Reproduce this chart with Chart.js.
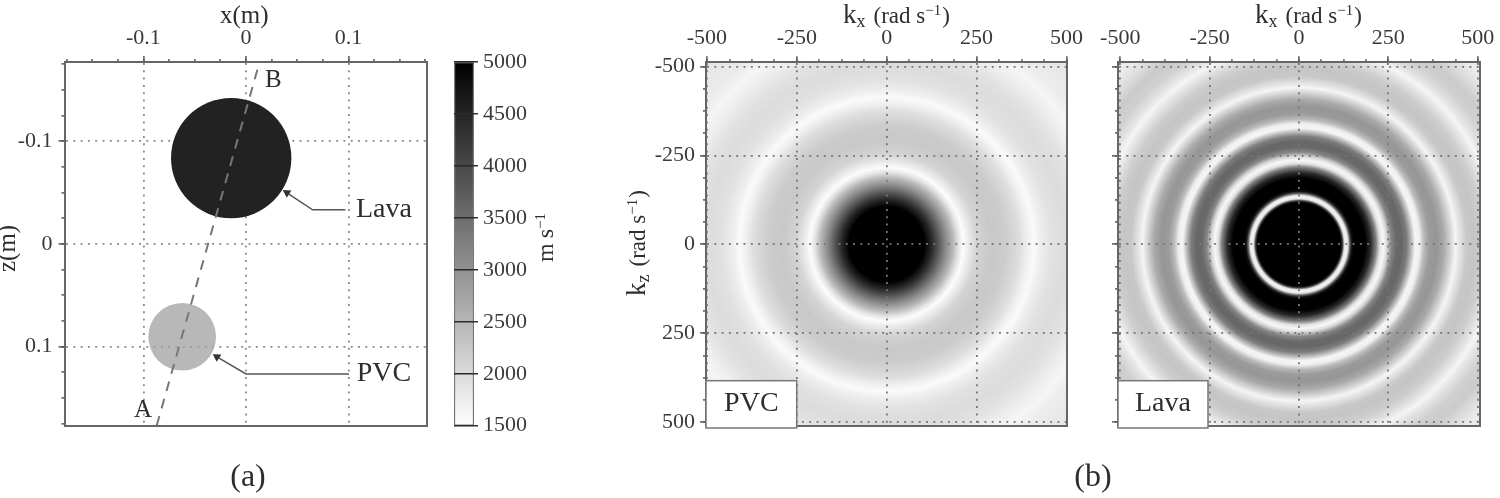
<!DOCTYPE html>
<html><head><meta charset="utf-8">
<script src="https://cdn.jsdelivr.net/npm/chart.js@4"></script>
<style>
html,body{margin:0;padding:0;background:#fff;width:1500px;height:498px;overflow:hidden}
canvas{position:absolute;top:0;filter:blur(0.7px)}
</style></head><body>
<canvas id="a"></canvas><canvas id="cb"></canvas><canvas id="b1"></canvas><canvas id="b2"></canvas>
<script>
// ---- data ----
const modelTicks=[-0.1,0,0.1];
const modelTickLabels=['-0.1','0','0.1'];
const modelMinor=[-0.175,-0.15,-0.125,-0.1,-0.075,-0.05,-0.025,0,0.025,0.05,0.075,0.1,0.125,0.15,0.175];
const lavaDisc={x:-0.0144,z:-0.0835,r:0.0587};
const pvcDisc={x:-0.0622,z:0.0904,r:0.033};
const sectionX=[-0.0871,0.0117];
const sectionZ=[0.177,-0.1714];
const lavaArrowX=[0.097,0.065,0.0400];
const lavaArrowZ=[-0.0331,-0.0331,-0.0497];
const pvcArrowX=[0.1005,0,-0.0283];
const pvcArrowZ=[0.1266,0.1266,0.1100];
const velocityTicks=[1500,2000,2500,3000,3500,4000,4500,5000];
const velocityRange=[1500,5000];
const kTicks=[-500,-250,0,250,500];
const kTickLabels=['-500','-250','0','250','500'];
const kMinor=[-500,-437.5,-375,-312.5,-250,-187.5,-125,-62.5,0,62.5,125,187.5,250,312.5,375,437.5,500];
const pvcRadius=[0,105,125,145,165,185,200,213,228,250,290,330,370,392,410,428,460,500,540,575,605,635,720];
const pvcGray=[0,0,40,90,140,185,228,252,235,212,200,204,222,240,250,238,225,220,226,238,245,236,228];
const lavaRadius=[0,117,122,127,132,137,142,148,155,185,200,215,226,236,246,258,272,287,302,315,325,337,350,365,385,405,425,438,452,470,490,515,540,556,572,600,630,660,690,720];
const lavaGray=[0,0,70,225,245,225,100,15,0,0,40,125,225,248,215,135,105,103,125,190,245,240,185,155,150,170,215,245,225,200,197,205,228,245,228,208,203,220,235,235];

// ---- text ----
const INK='#2e2e2e', SERIF='"Liberation Serif"';
const kxTitle=[{t:'k',s:27},{t:'x',s:18,dy:4,gap:8},{t:'(rad s',s:23},{t:'\u22121',s:15,dy:-8,gap:1},{t:')',s:23}];
const kzTitle=[{t:'k',s:27},{t:'z',s:18,dy:4,gap:8},{t:'(rad s',s:23},{t:'\u22121',s:15,dy:-8,gap:1},{t:')',s:23}];
const msTitle=[{t:'m',s:24,gap:5},{t:'s',s:24},{t:'\u22121',s:15,dy:-8}];

function rich(ctx,segs,x,y,rot){
  ctx.save();ctx.translate(x,y);ctx.rotate(rot||0);ctx.fillStyle=INK;ctx.textAlign='left';ctx.textBaseline='alphabetic';
  let c=0;
  for(const s of segs){ctx.font=s.s+'px '+SERIF;ctx.fillText(s.t,c,s.dy||0);c+=ctx.measureText(s.t).width+(s.gap||0);}
  ctx.restore();
}
function centered(ctx,t,size,x,y){ctx.save();ctx.font=size+'px '+SERIF;ctx.fillStyle=INK;ctx.textAlign='center';ctx.textBaseline='middle';ctx.fillText(t,x,y);ctx.restore();}

// ---- helpers ----
const TOP_BAND=50, TICK_FONT=22;
function tickAxis(position,min,max,vals,labels,o){
  o=o||{};const horiz=position==='top'||position==='bottom';
  const band=o.minor?0:(horiz?TOP_BAND:o.band);
  return {type:'linear',position,min,max,reverse:!!o.reverse,weight:o.minor?0:1,
    afterBuildTicks:s=>{s.ticks=vals.map(v=>({value:v}));},
    afterFit:s=>{if(horiz)s.height=band;else s.width=band;},
    ticks:{display:!!labels,autoSkip:false,maxRotation:0,minRotation:0,padding:o.pad===undefined?4:o.pad,color:'#3a3a3a',
      font:{family:SERIF,size:TICK_FONT},callback:(v,i)=>labels?labels[i]:''},
    grid:{display:true,drawOnChartArea:!!o.gridOn,drawTicks:true,tickLength:o.tick||6,tickWidth:1.5,tickColor:'#555',
      color:o.gridColor||'#999',lineWidth:1.8,z:o.gridZ===undefined?-1:o.gridZ},
    border:{display:!o.minor,color:'#666',width:2,dash:[2,5.3],z:2}};
}
function frame(position){
  const horiz=position==='bottom';
  return {type:'linear',position,min:0,max:1,afterFit:s=>{if(horiz)s.height=0;else s.width=0;},
    ticks:{display:false},grid:{display:false,drawTicks:false},border:{display:true,color:'#666',width:2,z:2}};
}
function place(id,left,width,rect,config,bands){
  const c=document.getElementById(id);c.style.left=left+'px';c.style.width=width+'px';c.style.height='498px';c.width=width;c.height=498;
  const b=Object.assign({left:0,top:TOP_BAND,right:0},bands||{});
  config.options=Object.assign({responsive:false,animation:false,devicePixelRatio:1,events:[],
    layout:{autoPadding:false,padding:{left:rect[0]-left-b.left,top:rect[1]-b.top,right:left+width-rect[2]-b.right,bottom:498-rect[3]}},
    plugins:{legend:{display:false},tooltip:{enabled:false},title:{display:false}}},config.options);
  return new Chart(c.getContext('2d'),config);
}
function scaleRadius(chart,r){const s=chart.scales.x;return Math.abs(s.getPixelForValue(r)-s.getPixelForValue(0));}

// ---- (a) model ----
place('a',0,445,[64.5,62,427,425.7],{
  type:'scatter',
  data:{datasets:[
    {data:sectionX.map((x,i)=>({x,y:sectionZ[i]})),showLine:true,borderColor:'#777',borderWidth:2,borderDash:[10,8],pointRadius:0},
    {data:lavaArrowX.map((x,i)=>({x,y:lavaArrowZ[i]})),showLine:true,borderColor:'#555',borderWidth:1.5,pointStyle:'triangle',
     pointRadius:[0,0,5],pointRotation:-57,pointBackgroundColor:'#333',pointBorderWidth:0},
    {data:pvcArrowX.map((x,i)=>({x,y:pvcArrowZ[i]})),showLine:true,borderColor:'#555',borderWidth:1.5,pointStyle:'triangle',
     pointRadius:[0,0,5],pointRotation:-57,pointBackgroundColor:'#333',pointBorderWidth:0},
    {data:[{x:pvcDisc.x,y:pvcDisc.z}],pointRadius:c=>scaleRadius(c.chart,pvcDisc.r),pointBackgroundColor:'rgba(160,160,160,0.75)',pointBorderWidth:0},
    {data:[{x:lavaDisc.x,y:lavaDisc.z}],pointRadius:c=>scaleRadius(c.chart,lavaDisc.r),pointBackgroundColor:'#222',pointBorderWidth:0}
  ]},
  options:{scales:{
    x:tickAxis('top',-0.177,0.1766,modelTicks,modelTickLabels,{gridOn:true,pad:5,gridColor:'#8c8c8c'}),
    xm:tickAxis('top',-0.177,0.1766,modelMinor,null,{tick:3,minor:true}),
    y:tickAxis('left',-0.177,0.177,modelTicks,modelTickLabels,{gridOn:true,reverse:true,pad:6,gridColor:'#8c8c8c',band:60}),
    ym:tickAxis('left',-0.177,0.177,modelMinor,null,{tick:3,reverse:true,minor:true}),
    xb:frame('bottom'),yr:frame('right')
  }},
  plugins:[{id:'aText',afterDraw(ch){
    const c=ch.ctx,X=ch.scales.x,Y=ch.scales.y;
    const at=(t,s,x,z)=>centered(c,t,s,X.getPixelForValue(x),Y.getPixelForValue(z));
    at('Lava',28,0.1346,-0.0331);at('PVC',28,0.1346,0.1266);at('A',25,-0.1005,0.1626);at('B',25,0.0268,-0.1587);
    rich(c,[{t:'x(m)',s:25}],220,23);
    rich(c,[{t:'z(m)',s:25}],15,272,-Math.PI/2);
    centered(c,'(a)',32,248,478);
  }}]
},{left:60});

// ---- colour bar ----
place('cb',445,155,[454,62,474,425.7],{
  type:'bar',
  data:{labels:['velocity'],datasets:[{data:[velocityRange],barPercentage:1,categoryPercentage:1,borderColor:'#777',borderWidth:1.5,borderSkipped:false,
    backgroundColor:c=>{const a=c.chart.chartArea;if(!a)return '#888';const g=c.chart.ctx.createLinearGradient(0,a.top,0,a.bottom);g.addColorStop(0,'#000');g.addColorStop(1,'#fff');return g;}}]},
  options:{scales:{
    x:{display:false},
    y:{type:'linear',position:'right',min:1500,max:5000,afterBuildTicks:s=>{s.ticks=velocityTicks.map(v=>({value:v}));},
      afterFit:s=>{s.width=70;},
      ticks:{autoSkip:false,padding:5,color:'#3a3a3a',font:{family:SERIF,size:TICK_FONT},callback:v=>String(v)},
      grid:{drawOnChartArea:true,color:'#2a2a2a',lineWidth:1.5,tickLength:4,tickColor:'#333',z:1},border:{display:false}}
  }},
  plugins:[{id:'cbText',afterDraw(ch){rich(ch.ctx,msTitle,553-445,262,-Math.PI/2);}}]
},{left:0,top:0,right:70});

// ---- wavenumber panels ----
function ringPanel(id,left,width,rect,xr,yr,radii,grays,name,boxRect,yLabels,band,extras){
  const Rmax=radii[radii.length-1];
  place(id,left,width,rect,{
    type:'scatter',
    data:{datasets:[{data:[{x:0,y:0}],pointBorderWidth:0,
      pointRadius:c=>scaleRadius(c.chart,Rmax),
      pointBackgroundColor:c=>{
        const ch=c.chart;if(!ch.chartArea)return '#888';
        const px=ch.scales.x.getPixelForValue(0),py=ch.scales.y.getPixelForValue(0);
        const g=ch.ctx.createRadialGradient(px,py,0,px,py,scaleRadius(ch,Rmax));
        radii.forEach((r,i)=>{const v=grays[i];g.addColorStop(r/Rmax,`rgb(${v},${v},${v})`);});
        return g;
      }}]},
    options:{scales:{
      x:tickAxis('top',xr[0],xr[1],kTicks,kTickLabels,{gridOn:true,gridZ:1,pad:5,gridColor:'#777'}),
      xm:tickAxis('top',xr[0],xr[1],kMinor,null,{tick:3,minor:true}),
      y:tickAxis('left',yr[0],yr[1],kTicks,yLabels,{gridOn:true,gridZ:1,reverse:true,pad:5,gridColor:'#777',band}),
      ym:tickAxis('left',yr[0],yr[1],kMinor,null,{tick:3,reverse:true,minor:true}),
      xb:frame('bottom'),yr:frame('right')
    }},
    plugins:[{id:id+'Text',afterDraw(ch){
      const c=ch.ctx,[x0,y0,x1,y1]=boxRect;
      c.save();c.fillStyle='#fff';c.strokeStyle='#777';c.lineWidth=1.5;c.fillRect(x0-left,y0,x1-x0,y1-y0);c.strokeRect(x0-left,y0,x1-x0,y1-y0);c.restore();
      centered(c,name,28,(x0+x1)/2-left,404);
      extras(c);
    }}]
  },{left:band});
}
ringPanel('b1',600,515,[706,62.3,1067,426],[-502.6,501.5],[-512,511],pvcRadius,pvcGray,'PVC',[706,380.7,796.7,428],kTickLabels,60,c=>{
  rich(c,kxTitle,843-600,23);
  rich(c,kzTitle,645-600,296,-Math.PI/2);
  centered(c,'(b)',32,1093-600,478);
});
ringPanel('b2',1080,420,[1118,62.3,1480,426],[-506.3,506.3],[-512,511],lavaRadius,lavaGray,'Lava',[1118,380.7,1208,428],null,30,c=>{
  rich(c,kxTitle,1255-1080,23);
});
</script>
</body></html>
